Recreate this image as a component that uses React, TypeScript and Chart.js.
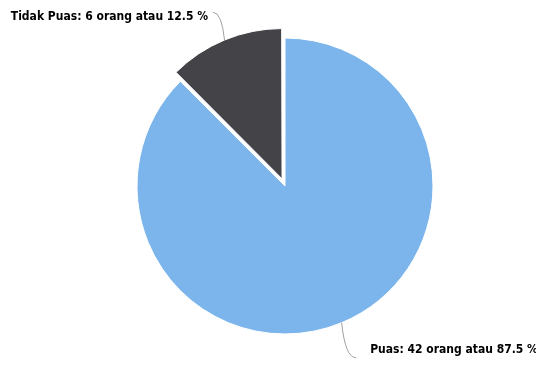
import React, { useEffect, useRef } from "react";
import { Chart, registerables } from "chart.js";

Chart.register(...registerables);

const categories = ["Puas", "Tidak Puas"];
const values = [42, 6];
const unit = "orang";
const colors = ["#7cb5ec", "#434348"];
const sliced = [0, 31];
const labelDistance = [38, 30];

const labelPlugin = {
  id: "pieLabels",
  afterDraw(chart: any) {
    const ctx = chart.ctx;
    const meta = chart.getDatasetMeta(0);
    const total = values.reduce((a, b) => a + b, 0);
    meta.data.forEach((arc: any, i: number) => {
      const { x, y, startAngle, endAngle, outerRadius } = arc.getProps(
        ["x", "y", "startAngle", "endAngle", "outerRadius"],
        true
      );
      const off = arc.options.offset || 0;
      const circ = endAngle - startAngle;
      const fix = 1 - Math.sin(Math.min(Math.PI, circ));
      const t = (off / 4) * (1 + fix);
      const a = (startAngle + endAngle) / 2;
      const cx = x + Math.cos(a) * t;
      const cy = y + Math.sin(a) * t;
      const px = cx + Math.cos(a) * outerRadius;
      const py = cy + Math.sin(a) * outerRadius;
      const d = outerRadius + labelDistance[i];
      const lx = cx + Math.cos(a) * d;
      const ly = cy + Math.sin(a) * d;
      const right = Math.cos(a) >= 0;
      ctx.save();
      ctx.strokeStyle = "#a0a0a0";
      ctx.lineWidth = 1;
      ctx.beginPath();
      ctx.moveTo(px, py);
      ctx.quadraticCurveTo(px * 0.75 + lx * 0.25, ly, lx, ly);
      ctx.stroke();
      const pct = ((values[i] / total) * 100).toFixed(1);
      const text = `${categories[i]}: ${values[i]} ${unit} atau ${pct} %`;
      ctx.font = "bold 12px 'DejaVu Sans Condensed', 'DejaVu Sans', sans-serif";
      ctx.textBaseline = "middle";
      let tx: number, ty: number;
      if (right) {
        ctx.textAlign = "left";
        tx = lx + 14;
        ty = ly - 8;
      } else {
        ctx.textAlign = "right";
        tx = lx - 5;
        ty = ly + 5;
      }
      ctx.lineJoin = "round";
      ctx.strokeStyle = "#ffffff";
      ctx.lineWidth = 2;
      ctx.strokeText(text, tx, ty);
      ctx.fillStyle = "#000000";
      ctx.fillText(text, tx, ty);
      ctx.restore();
    });
  },
};

export default function App() {
  const ref = useRef<HTMLCanvasElement>(null);
  useEffect(() => {
    if (!ref.current) return;
    const chart = new Chart(ref.current, {
      type: "pie",
      data: {
        labels: categories,
        datasets: [
          {
            data: values,
            backgroundColor: colors,
            borderColor: "#ffffff",
            borderWidth: 1,
            offset: sliced,
          },
        ],
      },
      options: {
        animation: false,
        responsive: true,
        maintainAspectRatio: false,
        radius: 148,
        layout: { padding: { left: 34, right: 0, top: 7, bottom: 0 } },
        plugins: {
          legend: { display: false },
          tooltip: { enabled: false },
        },
      },
      plugins: [labelPlugin],
    });
    return () => chart.destroy();
  }, []);
  return (
    <div
      style={{
        position: "fixed",
        left: 0,
        top: 0,
        width: 536,
        height: 365,
        background: "#ffffff",
      }}
    >
      <canvas ref={ref} />
    </div>
  );
}
